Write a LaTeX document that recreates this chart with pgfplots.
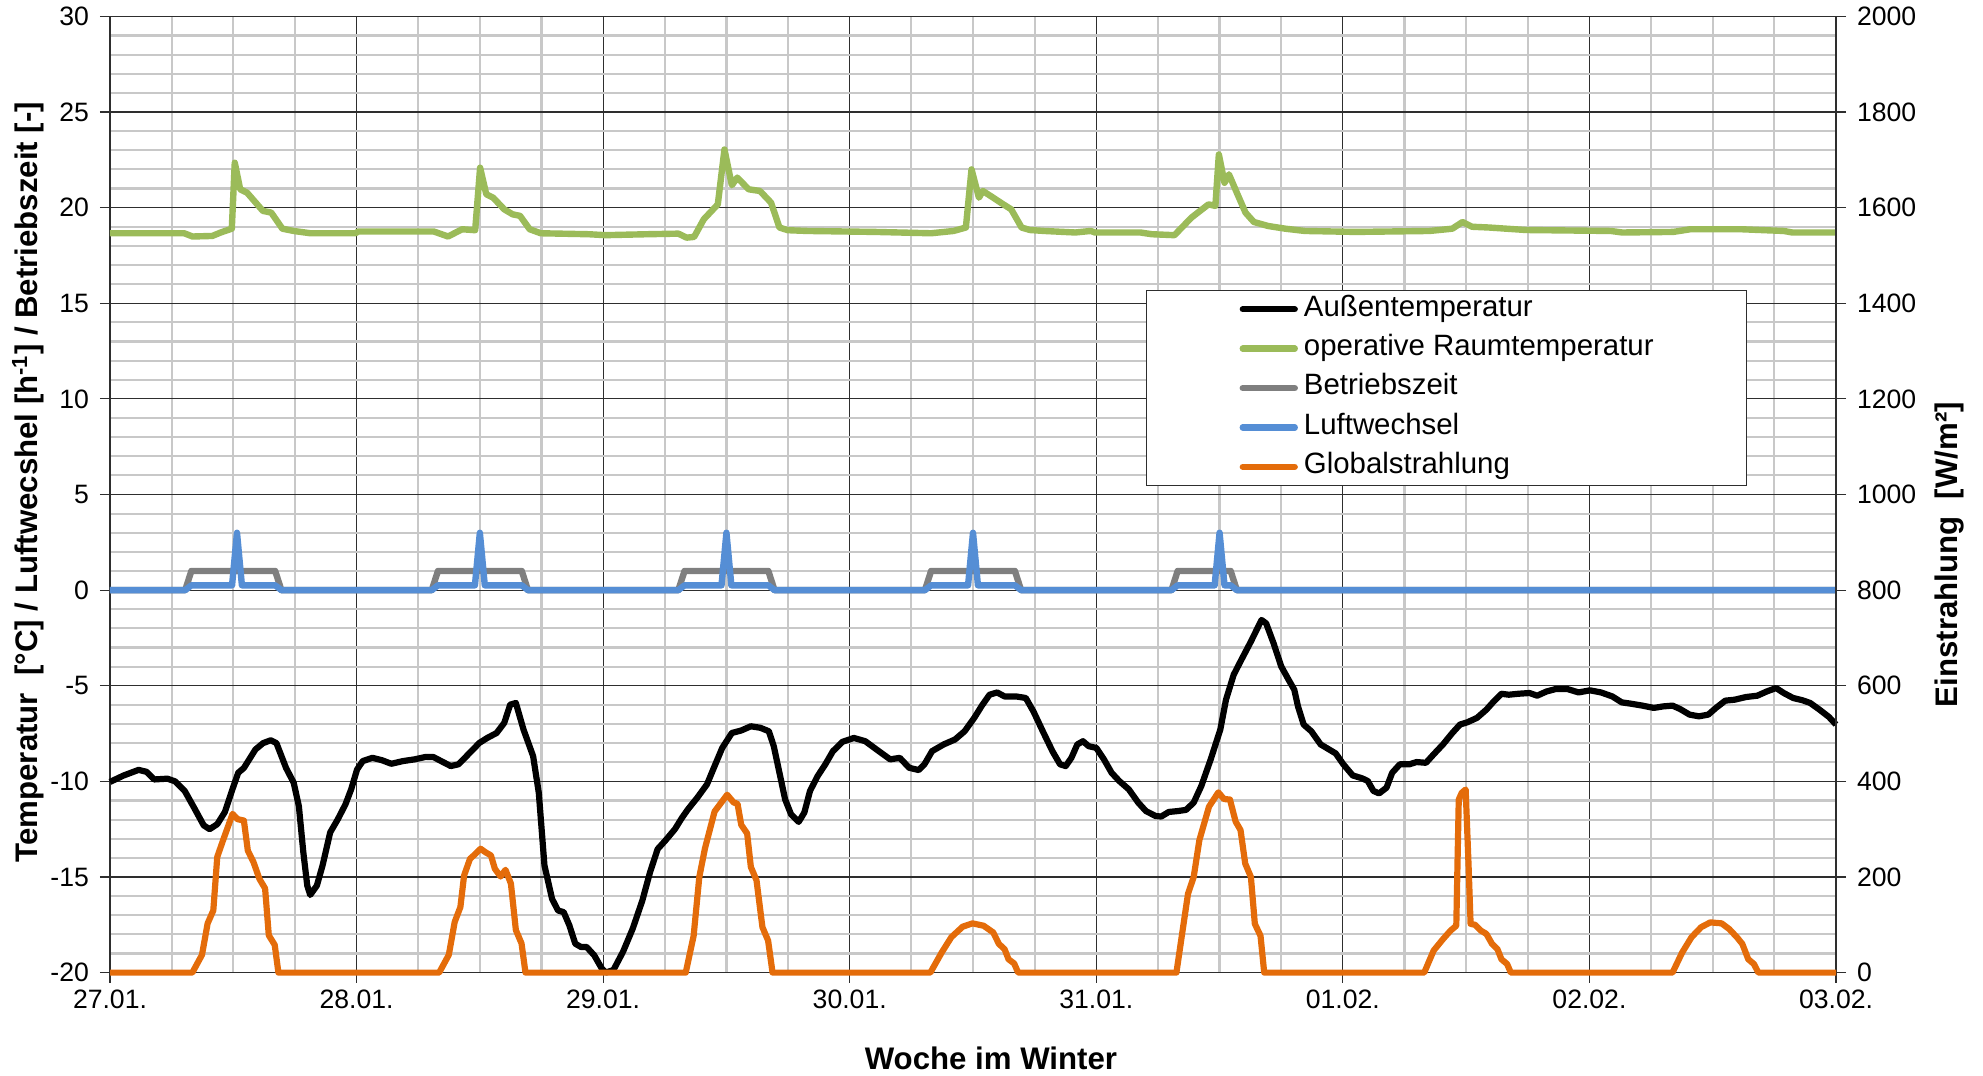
\documentclass[border=0pt]{standalone}
\usepackage{fontspec}
\setmainfont{Liberation Sans}
\usepackage{pgfplots}
\pgfplotsset{compat=1.18}
\definecolor{cGreen}{HTML}{9BBB59}
\definecolor{cGray}{HTML}{7F7F7F}
\definecolor{cBlue}{HTML}{558ED5}
\definecolor{cOrange}{HTML}{E46C0A}
\definecolor{cMinor}{HTML}{C8C8C8}
\definecolor{cMajor}{HTML}{2E2E2E}
\begin{document}
\begin{tikzpicture}
\pgfplotsset{
  base/.style={
    scale only axis, width=863pt, height=478.1pt,
    xmin=0, xmax=7, clip=false,
    tick align=outside, major tick length=5pt, minor tick length=0pt,
    tick style={cMajor, line width=0.6pt},
    axis line style={cMajor, line width=0.7pt},
    ticklabel style={font=\fontsize{13.3}{16}\selectfont},
    /pgf/number format/assume math mode=true,
    /pgf/number format/1000 sep={},
  },
  legend image code/.code={\draw[#1, line cap=round] (0pt,0pt) -- (26pt,0pt);},
}
\begin{axis}[base, name=ax,
  ymin=-20, ymax=30, ytick={-20,-15,...,30},
  xtick={0,1,...,7},
  xticklabels={27.01.,28.01.,29.01.,30.01.,31.01.,01.02.,02.02.,03.02.},
  minor x tick num=3, minor y tick num=4,
  grid=both,
  major grid style={cMajor, line width=0.6pt},
  minor grid style={cMinor, line width=1.1pt},
  xtick pos=lower, ytick pos=left,
  yticklabel style={xshift=-2pt},
  xlabel={Woche im Winter},
  xlabel style={font=\bfseries\fontsize{15.6}{18}\selectfont, at={(axis description cs:0.5104,-0.0893)}, anchor=center},
  ylabel={Temperatur\ \ [°C] / Luftwecshel [h\textsuperscript{-1}] / Betriebszeit [-]},
  ylabel style={font=\bfseries\fontsize{15.6}{18}\selectfont, at={(axis description cs:-0.0475,0.513)}, anchor=center},
]
\addplot[black, line width=3.1pt, line join=round] table {
0.000 -10.03
0.054 -9.70
0.116 -9.40
0.148 -9.50
0.179 -9.90
0.233 -9.86
0.264 -10.00
0.303 -10.50
0.342 -11.40
0.380 -12.30
0.404 -12.50
0.435 -12.24
0.466 -11.60
0.497 -10.40
0.520 -9.55
0.543 -9.30
0.590 -8.33
0.621 -8.00
0.652 -7.85
0.675 -8.00
0.714 -9.30
0.745 -10.07
0.766 -11.30
0.784 -13.70
0.800 -15.45
0.812 -15.94
0.839 -15.45
0.862 -14.40
0.893 -12.67
0.924 -11.98
0.955 -11.20
0.978 -10.42
1.002 -9.38
1.025 -8.94
1.064 -8.77
1.102 -8.89
1.141 -9.08
1.188 -8.94
1.235 -8.85
1.281 -8.72
1.312 -8.73
1.343 -8.94
1.382 -9.20
1.413 -9.11
1.452 -8.60
1.498 -7.99
1.530 -7.73
1.568 -7.47
1.599 -6.94
1.623 -5.99
1.646 -5.90
1.677 -7.29
1.716 -8.68
1.739 -10.60
1.762 -14.40
1.793 -16.15
1.817 -16.75
1.840 -16.84
1.863 -17.53
1.887 -18.49
1.910 -18.66
1.933 -18.66
1.964 -19.10
1.995 -19.80
2.011 -20.00
2.042 -19.86
2.081 -18.90
2.120 -17.70
2.159 -16.23
2.190 -14.76
2.221 -13.54
2.252 -13.10
2.291 -12.50
2.320 -11.90
2.344 -11.46
2.382 -10.85
2.421 -10.16
2.452 -9.20
2.483 -8.25
2.522 -7.47
2.560 -7.34
2.599 -7.12
2.638 -7.20
2.672 -7.38
2.692 -8.16
2.715 -9.55
2.738 -10.94
2.762 -11.72
2.793 -12.12
2.816 -11.63
2.839 -10.50
2.870 -9.72
2.901 -9.11
2.932 -8.42
2.971 -7.93
3.017 -7.73
3.063 -7.90
3.118 -8.42
3.164 -8.85
3.203 -8.77
3.241 -9.29
3.280 -9.41
3.303 -9.11
3.334 -8.42
3.381 -8.07
3.427 -7.81
3.466 -7.38
3.505 -6.68
3.536 -6.04
3.567 -5.47
3.598 -5.35
3.628 -5.56
3.675 -5.56
3.714 -5.64
3.745 -6.34
3.783 -7.38
3.822 -8.42
3.853 -9.11
3.876 -9.20
3.899 -8.77
3.923 -8.07
3.946 -7.90
3.969 -8.16
4.000 -8.25
4.031 -8.85
4.062 -9.55
4.093 -9.98
4.132 -10.42
4.170 -11.11
4.201 -11.55
4.240 -11.81
4.263 -11.84
4.294 -11.60
4.333 -11.55
4.364 -11.49
4.395 -11.11
4.426 -10.24
4.464 -8.85
4.503 -7.29
4.526 -5.73
4.557 -4.43
4.588 -3.65
4.627 -2.69
4.670 -1.56
4.689 -1.74
4.719 -2.78
4.750 -3.99
4.780 -4.69
4.803 -5.21
4.818 -6.08
4.841 -7.03
4.872 -7.38
4.910 -8.07
4.940 -8.30
4.971 -8.54
5.002 -9.11
5.040 -9.69
5.078 -9.84
5.101 -9.98
5.124 -10.50
5.147 -10.63
5.177 -10.33
5.200 -9.55
5.231 -9.11
5.269 -9.11
5.299 -8.99
5.337 -9.03
5.368 -8.59
5.406 -8.07
5.444 -7.47
5.475 -7.03
5.505 -6.91
5.544 -6.68
5.582 -6.25
5.612 -5.82
5.643 -5.42
5.673 -5.47
5.711 -5.42
5.757 -5.38
5.788 -5.52
5.826 -5.30
5.864 -5.17
5.910 -5.17
5.956 -5.35
6.002 -5.24
6.047 -5.35
6.093 -5.56
6.131 -5.87
6.169 -5.94
6.215 -6.04
6.261 -6.16
6.299 -6.08
6.337 -6.04
6.368 -6.22
6.406 -6.51
6.444 -6.60
6.482 -6.51
6.513 -6.16
6.551 -5.78
6.589 -5.73
6.635 -5.59
6.681 -5.52
6.719 -5.30
6.757 -5.12
6.788 -5.38
6.826 -5.64
6.864 -5.76
6.895 -5.90
6.933 -6.25
6.971 -6.63
7.000 -7.03
};
\addplot[cGreen, line width=3.2pt, line join=round] table {
0.000 18.66
0.301 18.66
0.335 18.49
0.415 18.52
0.449 18.70
0.494 18.90
0.506 22.35
0.528 20.96
0.556 20.78
0.585 20.35
0.620 19.83
0.654 19.74
0.699 18.90
0.745 18.78
0.813 18.66
0.995 18.66
1.007 18.75
1.314 18.75
1.371 18.49
1.428 18.87
1.481 18.82
1.501 22.09
1.526 20.70
1.554 20.52
1.599 19.91
1.633 19.65
1.663 19.57
1.702 18.87
1.747 18.66
1.941 18.61
2.009 18.56
2.180 18.61
2.305 18.64
2.339 18.43
2.369 18.47
2.408 19.39
2.465 20.17
2.492 23.04
2.522 21.17
2.544 21.57
2.590 20.96
2.636 20.87
2.681 20.26
2.715 18.96
2.749 18.82
2.829 18.78
3.103 18.73
3.330 18.66
3.421 18.78
3.471 18.96
3.494 22.00
3.524 20.52
3.540 20.87
3.582 20.52
3.616 20.23
3.655 19.91
3.697 18.96
3.731 18.83
3.789 18.78
3.915 18.70
3.977 18.78
3.995 18.70
4.179 18.70
4.225 18.61
4.317 18.56
4.386 19.48
4.455 20.17
4.483 20.09
4.497 22.78
4.520 21.30
4.538 21.74
4.570 20.78
4.605 19.74
4.639 19.25
4.697 19.04
4.766 18.90
4.846 18.78
5.053 18.73
5.352 18.78
5.444 18.90
5.485 19.25
5.524 19.00
5.593 18.96
5.743 18.83
6.087 18.78
6.133 18.70
6.340 18.73
6.409 18.87
6.616 18.87
6.788 18.78
6.823 18.70
7.000 18.70
};
\addplot[cGray, line width=3.2pt, line join=round] table {
0.000 0
0.305 0
0.330 1
0.670 1
0.695 0
1.305 0
1.330 1
1.670 1
1.695 0
2.305 0
2.330 1
2.670 1
2.695 0
3.305 0
3.330 1
3.670 1
3.695 0
4.305 0
4.330 1
4.545 1
4.570 0
7.000 0
};
\addplot[cBlue, line width=3.2pt, line join=round] table {
0.000 0
0.305 0
0.330 0.25
0.495 0.25
0.515 3.0
0.535 0.25
0.670 0.25
0.695 0
1.305 0
1.330 0.25
1.480 0.25
1.500 3.0
1.520 0.25
1.670 0.25
1.695 0
2.305 0
2.330 0.25
2.480 0.25
2.500 3.0
2.520 0.25
2.670 0.25
2.695 0
3.305 0
3.330 0.25
3.480 0.25
3.500 3.0
3.520 0.25
3.670 0.25
3.695 0
4.305 0
4.330 0.25
4.480 0.25
4.500 3.0
4.520 0.25
4.545 0.25
4.570 0
7.000 0
};
\end{axis}
\begin{axis}[base,
  ymin=0, ymax=2000, ytick={0,200,...,2000},
  axis y line*=right, axis x line=none,
  yticklabel style={xshift=2pt},
  ylabel={Einstrahlung\ \ [W/m²]},
  ylabel style={font=\bfseries\fontsize{15.6}{18}\selectfont, at={(axis description cs:1.0655,0.437)}, anchor=center, rotate=0},
  legend cell align=left,
  legend style={at={(axis description cs:0.6002,0.7139)}, anchor=north west,
    draw=cMajor, line width=0.6pt, fill=white,
    inner xsep=46.5pt, inner ysep=2pt, row sep=5pt, column sep=3pt,
    font=\fontsize{14.7}{17}\selectfont,
    nodes={inner sep=0pt, text height=10.8pt, text depth=3.9pt}},
]
\addlegendimage{black, line width=3.1pt}
\addlegendentry{Außentemperatur}
\addlegendimage{cGreen, line width=3.2pt}
\addlegendentry{operative Raumtemperatur}
\addlegendimage{cGray, line width=3.2pt}
\addlegendentry{Betriebszeit}
\addlegendimage{cBlue, line width=3.2pt}
\addlegendentry{Luftwechsel}
\addplot[cOrange, line width=3.1pt, line join=round] table {
0 0
0.334 0
0.373 37
0.396 103
0.419 130
0.435 242
0.458 276
0.497 332
0.517 321
0.543 318
0.559 255
0.582 231
0.606 196
0.629 176
0.644 78
0.668 58
0.683 0
1.335 0
1.374 37
1.398 106
1.421 137
1.436 203
1.460 238
1.475 245
1.503 259
1.522 252
1.545 245
1.561 217
1.584 201
1.604 215
1.626 186
1.646 89
1.669 61
1.685 0
2.335 0
2.367 77
2.390 200
2.413 260
2.452 337
2.503 372
2.529 356
2.545 353
2.560 309
2.584 291
2.599 221
2.622 193
2.646 95
2.669 67
2.687 0
3.327 0
3.373 42
3.412 74
3.458 96
3.498 103
3.543 98
3.582 84
3.605 60
3.628 49
3.644 28
3.667 19
3.683 0
4.325 0
4.348 81
4.372 165
4.395 200
4.418 277
4.457 347
4.495 377
4.518 363
4.542 362
4.565 316
4.585 298
4.604 228
4.627 200
4.643 102
4.666 77
4.681 0
5.330 0
5.368 46
5.406 70
5.437 88
5.460 98
5.470 362
5.482 376
5.498 383
5.510 221
5.518 102
5.536 100
5.559 88
5.582 81
5.605 60
5.627 49
5.643 28
5.666 18
5.681 0
6.337 0
6.376 42
6.414 74
6.453 95
6.490 105
6.536 103
6.567 91
6.598 74
6.620 60
6.644 28
6.667 18
6.685 0
7.000 0
};
\addlegendentry{Globalstrahlung}
\end{axis}
\pgfresetboundingbox
\path ([shift={(-55pt,-51.2pt)}]ax.south west) rectangle ([shift={(73.5pt,8.2pt)}]ax.north east);
\end{tikzpicture}
\end{document}
